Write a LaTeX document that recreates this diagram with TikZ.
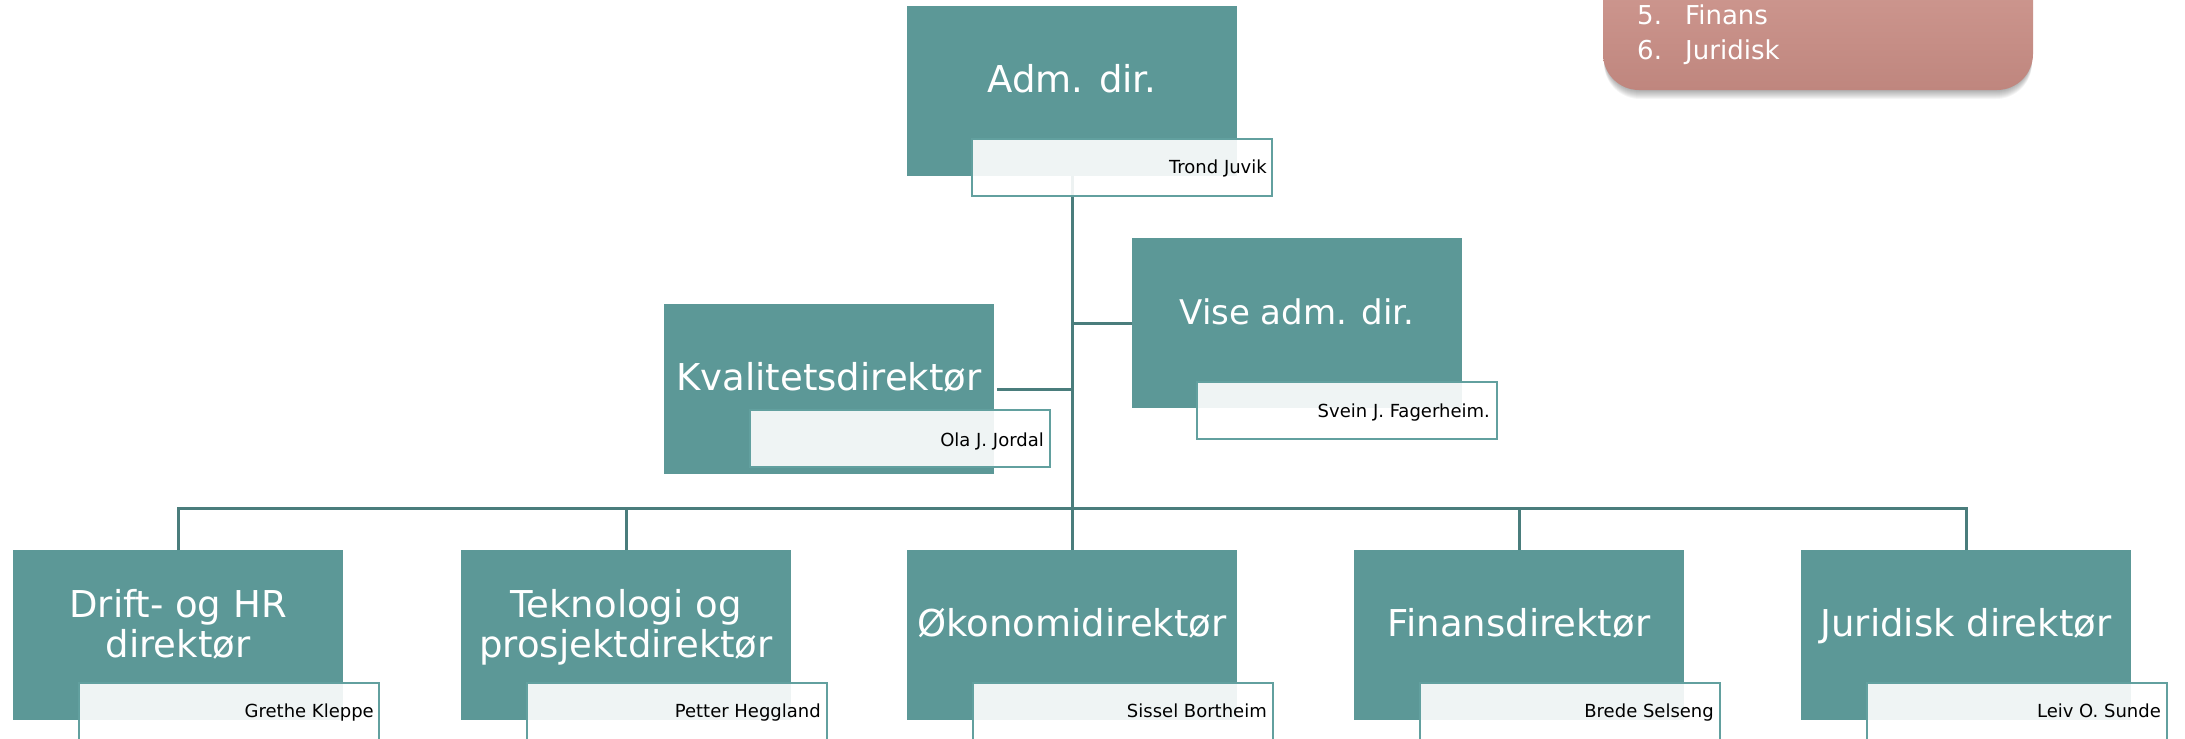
\documentclass[tikz,border=0pt]{standalone}
\usepackage{fontspec}
\setmainfont{DejaVu Sans}
\definecolor{boxteal}{HTML}{5C9897}
\definecolor{subteal}{HTML}{62A09F}
\definecolor{lineteal}{HTML}{4A7D7C}
\definecolor{salTop}{HTML}{D19B93}
\definecolor{salBot}{HTML}{BF867E}
\begin{document}
\begin{tikzpicture}[x=1pt,y=-1pt,
  box/.style={fill=boxteal, draw=none, inner sep=0pt, outer sep=0pt, minimum width=330pt, minimum height=170pt, anchor=north west},
  namebox/.style={fill=white, fill opacity=0.9, draw=subteal, line width=2.5pt, inner sep=0pt, outer sep=0pt, minimum width=300pt, minimum height=57pt, anchor=north west},
  title/.style={text=white, font=\fontsize{37}{41}\selectfont, inner sep=0pt, anchor=base},
  person/.style={text=black, font=\fontsize{18}{20}\selectfont, inner sep=0pt, anchor=base east},
  conn/.style={draw=lineteal, line width=3pt},
  listtxt/.style={text=white, font=\fontsize{26}{30}\selectfont, inner sep=0pt, anchor=base west}]
\useasboundingbox (0,0) rectangle (2185,739);
\clip (0,0) rectangle (2185,739);

% list box (top right)
\foreach \i in {1,...,9}
  \fill[black, opacity=0.04, rounded corners=36pt] (1604,-40+\i) rectangle (2032,90+\i);
\shade[top color=salTop, bottom color=salBot, rounded corners=36pt] (1603,-40) rectangle (2033,90);
\node[listtxt] (n5) at (1637,24) {5.};
\node[listtxt] (f5) at (1685,24) {Finans};
\node[listtxt] (n6) at (1637,59) {6.};
\node[listtxt] (f6) at (1685,59) {Juridisk};

% main boxes
\node[box] (adm) at (907,6) {};
\node[box] (vise) at (1132,238) {};
\node[box] (kval) at (664,304) {};
\node[box] (drift) at (13,550) {};
\node[box] (tek) at (461,550) {};
\node[box] (oko) at (907,550) {};
\node[box] (fin) at (1354,550) {};
\node[box] (jur) at (1801,550) {};

% connectors
\coordinate (bar) at (1072,508);
\draw[conn] (adm.south) -- (bar);
\draw[conn] (vise.west) -- (vise.west -| adm.south);
\draw[conn, shorten <=3pt] (kval.east) -- (kval.east -| adm.south);
\draw[conn] (drift.north) -- (drift.north |- bar) -- (jur.north |- bar) -- (jur.north);
\foreach \n in {tek,oko,fin}
  \draw[conn] (\n.north |- bar) -- (\n.north);

% name boxes
\node[namebox] (admn) at (972,139) {};
\node[namebox] (visen) at (1197,382) {};
\node[namebox] (kvaln) at (750,410) {};
\node[namebox] (driftn) at (79,683) {};
\node[namebox] (tekn) at (527,683) {};
\node[namebox] (okon) at (973,683) {};
\node[namebox] (finn) at (1420,683) {};
\node[namebox] (jurn) at (1867,683) {};

% titles
\node[title] (admt) at (1072,92) {Adm. dir.};
\node[title, font=\fontsize{34}{40}\selectfont] (viset) at (1297,324) {Vise adm. dir.};
\node[title] (kvalt) at (829,390) {Kvalitetsdirektør};
\node[title] (driftt1) at (178,617) {Drift- og HR};
\node[title] (driftt2) at (178,657) {direktør};
\node[title] (tekt1) at (626,617) {Teknologi og};
\node[title] (tekt2) at (626,657) {prosjektdirektør};
\node[title] (okot) at (1072,636) {Økonomidirektør};
\node[title] (fint) at (1519,636) {Finansdirektør};
\node[title] (jurt) at (1966,636) {Juridisk direktør};

% persons
\node[person] (admp) at (1267,173) {Trond Juvik};
\node[person] (visep) at (1490,417) {Svein J. Fagerheim.};
\node[person] (kvalp) at (1044,446) {Ola J. Jordal};
\node[person] (driftp) at (374,717) {Grethe Kleppe};
\node[person] (tekp) at (821,717) {Petter Heggland};
\node[person] (okop) at (1267,717) {Sissel Bortheim};
\node[person] (finp) at (1714,717) {Brede Selseng};
\node[person] (jurp) at (2161,717) {Leiv O. Sunde};
\end{tikzpicture}
\end{document}
